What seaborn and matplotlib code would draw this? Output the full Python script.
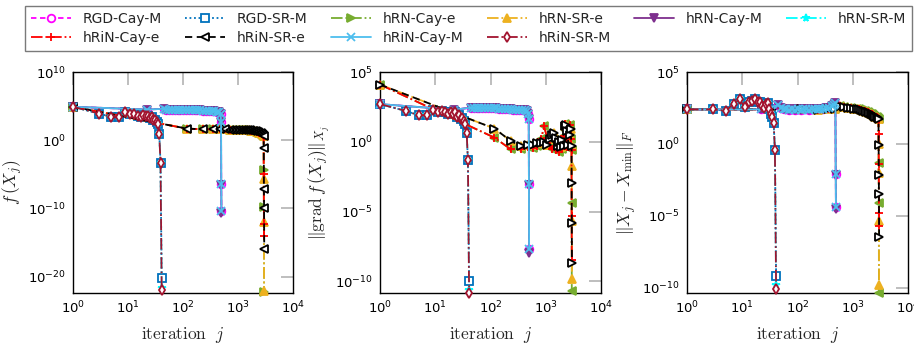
import numpy as np
import pandas as pd
import matplotlib
matplotlib.use('Agg')
import matplotlib.pyplot as plt
import seaborn as sns
from matplotlib.ticker import FixedLocator, NullLocator

# all values are log10 of the plotted quantity

methods = ['RGD-Cay-M', 'RGD-SR-M', 'hRN-Cay-e', 'hRN-SR-e', 'hRN-Cay-M',
           'hRN-SR-M', 'hRiN-Cay-e', 'hRiN-SR-e', 'hRiN-Cay-M', 'hRiN-SR-M']

# SR-M runs (stop after ~40 iterations)
it_srm = [1, 3, 5, 7, 9, 11, 13, 15, 17, 19, 21, 23, 25, 27, 29, 31, 33, 35, 37]
f_srm = [4.9, 3.9, 3.4, 3.4, 4.2, 3.8, 3.9, 3.6, 3.4, 3.7, 3.5, 3.6, 3.2, 3.4,
         3.0, 2.9, 2.7, 2.4, 0.9]
g_srm = [2.7, 2.2, 1.9, 1.9, 2.3, 2.1, 2.2, 2.1, 2.0, 2.1, 2.0, 2.1, 1.8, 1.9,
         1.6, 1.7, 1.5, 1.3, 0.65]
d_srm = [2.4, 2.4, 2.3, 2.8, 3.1, 2.55, 2.9, 3.0, 3.1, 2.9, 2.9, 2.6, 2.5, 2.8,
         2.85, 2.4, 2.05, 1.9, 1.45]
tail_it_srm = [39, 41]

# Cay-M runs (stop at ~500 iterations)
it_caym = [1, 22, 45, 50, 56, 63, 71, 80, 90, 101, 114, 128, 144, 162, 182, 205,
           231, 260, 293, 330, 372, 420, 460, 485]
f_caym = [4.9, 4.5, 4.6, 4.5, 4.5, 4.5, 4.5, 4.5, 4.4, 4.4, 4.4, 4.4, 4.4, 4.4,
          4.4, 4.4, 4.3, 4.3, 4.3, 4.3, 4.3, 4.2, 4.1, 3.8]
g_caym = [2.7, 2.3, 2.45, 2.4, 2.4, 2.4, 2.4, 2.4, 2.4, 2.4, 2.4, 2.4, 2.35, 2.35,
          2.35, 2.35, 2.35, 2.3, 2.3, 2.3, 2.3, 2.3, 2.2, 2.0]
d_caym = [2.4, 2.4, 2.7, 2.5, 2.4, 2.45, 2.35, 2.4, 2.35, 2.4, 2.35, 2.4, 2.4, 2.35,
          2.4, 2.4, 2.4, 2.45, 2.45, 2.5, 2.5, 2.6, 2.7, 2.85]
tail_it_caym = [492, 496, 500]

# Euclidean (-e) runs (stop at ~3000 iterations)
it_e = [1, 118, 235, 352, 469, 586, 703, 820, 937, 1054, 1171, 1288, 1405, 1522,
        1639, 1756, 1873, 1990, 2107, 2224, 2341, 2458, 2575, 2692, 2809, 2926]
f_e = [4.9, 1.7, 1.6, 1.6, 1.6, 1.6, 1.55, 1.55, 1.55, 1.5, 1.5, 1.5, 1.5, 1.45,
       1.45, 1.4, 1.4, 1.35, 1.3, 1.25, 1.2, 1.1, 1.0, 0.9, 0.75, 0.55]
g_sr_e = [4.1, 0.95, 0.05, -0.3, -0.2, -0.25, -0.1, -0.1, 0.0, -0.2, 0.2, 0.5, 0.65,
          0.3, -0.3, 0.0, -0.4, 0.1, -0.3, 1.1, 1.2, 0.8, -0.2, 0.5, 0.9, -0.3]
g_cay_e = [4.1, 0.3, -0.55, -0.5, -0.4, -0.45, -0.3, 0.2, 1.1, 0.3, -0.3, -0.5, 0.1,
           -0.6, -0.2, -0.7, 0.0, -0.5, 0.4, 1.3, 0.8, -0.4, 0.6, 1.2, 0.2, -0.6]
d_e = [2.4, 2.4, 2.35, 2.4, 2.45, 2.6, 2.55, 2.5, 2.5, 2.45, 2.4, 2.4, 2.35, 2.3,
       2.3, 2.25, 2.2, 2.15, 2.1, 2.05, 2.0, 1.95, 1.9, 1.85, 1.8, 1.7]
tail_it_e = [2940, 2960, 2980, 3000]

# final drop of each run, per panel
tail_f = {
    'RGD-Cay-M': [2.7, -6.4, -10.4], 'hRN-Cay-M': [2.7, -6.5, -10.6],
    'hRiN-Cay-M': [2.7, -6.4, -10.4],
    'RGD-SR-M': [-3.3, -20.2], 'hRN-SR-M': [-3.3, -21.6], 'hRiN-SR-M': [-3.3, -22.0],
    'hRN-Cay-e': [-4.4, -9.8, -22.3], 'hRN-SR-e': [-5.7, -12.0, -22.1],
    'hRiN-Cay-e': [-5.0, -12.3, -14.0], 'hRiN-SR-e': [-1.2, -7.2, -10.0, -15.9],
}
tail_g = {
    'RGD-Cay-M': [1.6, -3.05, -7.65], 'hRN-Cay-M': [1.6, -3.1, -7.95],
    'hRiN-Cay-M': [1.6, -3.05, -7.7],
    'RGD-SR-M': [-1.3, -10.0], 'hRN-SR-M': [-1.3, -10.6], 'hRiN-SR-M': [-1.3, -10.8],
    'hRN-Cay-e': [-4.4, -10.7], 'hRN-SR-e': [-1.75, -5.7, -9.8],
    'hRiN-Cay-e': [-5.3, -8.45], 'hRiN-SR-e': [-2.95, -5.8, -8.7],
}
tail_d = {
    'RGD-Cay-M': [-2.1, -4.4], 'hRN-Cay-M': [-2.15, -4.5], 'hRiN-Cay-M': [-2.1, -4.4],
    'RGD-SR-M': [-0.42, -9.2], 'hRN-SR-M': [-0.42, -9.85], 'hRiN-SR-M': [-0.42, -10.1],
    'hRN-Cay-e': [-1.35, -4.1, -10.35], 'hRN-SR-e': [0.0, -2.0, -5.4, -9.85],
    'hRiN-Cay-e': [0.68, -1.4, -4.8, -5.7], 'hRiN-SR-e': [-0.07, -2.15, -3.5, -6.5],
}

group = {
    'RGD-Cay-M': 'caym', 'hRN-Cay-M': 'caym', 'hRiN-Cay-M': 'caym',
    'RGD-SR-M': 'srm', 'hRN-SR-M': 'srm', 'hRiN-SR-M': 'srm',
    'hRN-Cay-e': 'cay_e', 'hRiN-Cay-e': 'cay_e',
    'hRN-SR-e': 'sr_e', 'hRiN-SR-e': 'sr_e',
}
iters = {'srm': (it_srm, tail_it_srm), 'caym': (it_caym, tail_it_caym),
         'cay_e': (it_e, tail_it_e), 'sr_e': (it_e, tail_it_e)}

panels = [
    {'base': {'srm': f_srm, 'caym': f_caym, 'cay_e': f_e, 'sr_e': f_e},
     'tail': tail_f, 'ylim': (-22.4, 10), 'yticks': [-20, -10, 0, 10],
     'ylabel': r'$f\,(X_j)$'},
    {'base': {'srm': g_srm, 'caym': g_caym, 'cay_e': g_cay_e, 'sr_e': g_sr_e},
     'tail': tail_g, 'ylim': (-10.83, 5), 'yticks': [-10, -5, 0, 5],
     'ylabel': r'$\|\mathrm{grad}\,f\,(X_j)\|_{X_j}$'},
    {'base': {'srm': d_srm, 'caym': d_caym, 'cay_e': d_e, 'sr_e': d_e},
     'tail': tail_d, 'ylim': (-10.38, 5), 'yticks': [-10, -5, 0, 5],
     'ylabel': r'$\|X_j - X_{\min}\|_F$'},
]

styles = {
    'RGD-Cay-M': dict(color='#ff00ff', ls=(0, (3, 2)), marker='o', mfc='white'),
    'RGD-SR-M': dict(color='#0072bd', ls=(0, (1, 1.5)), marker='s', mfc='white'),
    'hRN-Cay-e': dict(color='#77ac30', ls='-.', marker='>', mfc='#77ac30'),
    'hRN-SR-e': dict(color='#edb120', ls='-.', marker='^', mfc='#edb120'),
    'hRN-Cay-M': dict(color='#7e2f8e', ls='-', marker='v', mfc='#7e2f8e'),
    'hRN-SR-M': dict(color='#00ffff', ls='-.', marker='*', mfc='#00ffff'),
    'hRiN-Cay-e': dict(color='#ff0000', ls='-.', marker='+', mfc='#ff0000'),
    'hRiN-SR-e': dict(color='black', ls=(0, (4, 2.5)), marker='<', mfc='white'),
    'hRiN-Cay-M': dict(color='#4dbeee', ls='-', marker='x', mfc='#4dbeee'),
    'hRiN-SR-M': dict(color='#a2142f', ls='-.', marker='d', mfc='white'),
}
# triangles of the -e runs point the other way in the 2nd and 3rd panels
marker_swap = {'hRN-Cay-e': '<', 'hRiN-SR-e': '>'}

sns.set_theme(style='white')
plt.rcParams['font.family'] = ['DejaVu Sans']
plt.rcParams['mathtext.fontset'] = 'cm'

fig = plt.figure(figsize=(9.14, 3.52), dpi=100)
W, H = 914, 352
lefts = [73, 380, 687]
widths = [220, 221, 221]
axes = [fig.add_axes([l / W, 59 / H, w / W, 221 / H]) for l, w in zip(lefts, widths)]

for k, (ax, p) in enumerate(zip(axes, panels)):
    for z, m in enumerate(methods):
        g = group[m]
        it_base, it_tail = iters[g]
        tail = p['tail'][m]
        x = list(it_base) + list(it_tail[:len(tail)])
        y = 10.0 ** np.array(list(p['base'][g]) + tail)
        df = pd.DataFrame({'iteration': x, 'value': y})
        st = styles[m]
        mk = marker_swap.get(m, st['marker']) if k > 0 else st['marker']
        sns.lineplot(data=df, x='iteration', y='value', ax=ax, estimator=None,
                     sort=False, legend=False, label=m, color=st['color'],
                     linestyle=st['ls'], linewidth=1.3, marker=mk,
                     markersize=5.5, markerfacecolor=st['mfc'],
                     markeredgecolor=st['color'], markeredgewidth=1.3,
                     clip_on=False, zorder=2 + z)
    ax.set_xscale('log')
    ax.set_yscale('log')
    ax.set_xlim(1, 1e4)
    ax.set_ylim(10.0 ** p['ylim'][0], 10.0 ** p['ylim'][1])
    ax.xaxis.set_major_locator(FixedLocator([1, 10, 100, 1000, 10000]))
    ax.yaxis.set_major_locator(FixedLocator([10.0 ** t for t in p['yticks']]))
    ax.xaxis.set_minor_locator(NullLocator())
    ax.yaxis.set_minor_locator(NullLocator())
    ax.tick_params(which='major', direction='in', length=9, width=1.2,
                   color='0.7', top=True, right=True, labelsize=9.5,
                   labelcolor='black', pad=5)
    for s in ax.spines.values():
        s.set_color('black')
        s.set_linewidth(1.0)
    ax.set_xlabel(r'$\mathrm{iteration}\ \ j$', fontsize=12.5, labelpad=6)
    ax.set_ylabel(p['ylabel'], fontsize=12.5, labelpad=2)

# legend is filled row by row in the reference; matplotlib fills columns
handles, labels = axes[0].get_legend_handles_labels()
order = [0, 6, 1, 7, 2, 8, 3, 9, 4, 5]
leg = fig.legend([handles[i] for i in order], [labels[i] for i in order],
                 ncol=6, loc='upper left',
                 bbox_to_anchor=(25 / W, 1 - 53 / H, 887 / W, 47 / H),
                 mode='expand', fontsize=10, frameon=True, fancybox=False,
                 handlelength=2.9, handletextpad=0.85, labelspacing=0.4,
                 borderpad=0.4, numpoints=1, borderaxespad=0)
leg.get_frame().set_edgecolor('0.35')
leg.get_frame().set_linewidth(1.0)

fig.savefig('out.png', dpi=100)
